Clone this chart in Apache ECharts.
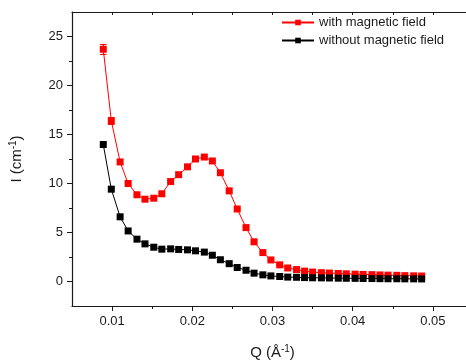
<!DOCTYPE html>
<html><head><meta charset="utf-8">
<script src="https://cdn.jsdelivr.net/npm/echarts@6/dist/echarts.min.js"></script>
<style>html,body{margin:0;padding:0;background:#fff}#c{width:466px;height:360px}</style>
</head><body><div id="c"></div>
<script>
const q = [0.0089, 0.0099, 0.0110, 0.0120, 0.0131, 0.0141, 0.0152, 0.0162, 0.0173, 0.0183,
           0.0194, 0.0204, 0.0215, 0.0225, 0.0235, 0.0246, 0.0256, 0.0267, 0.0277, 0.0288,
           0.0298, 0.0309, 0.0319, 0.0330, 0.0340, 0.0350, 0.0361, 0.0371, 0.0382, 0.0392,
           0.0403, 0.0413, 0.0424, 0.0434, 0.0444, 0.0455, 0.0465, 0.0476, 0.0486];
const withField = [23.7, 16.4, 12.2, 10.0, 8.85, 8.4, 8.5, 8.95, 10.2, 10.9,
                   11.7, 12.5, 12.7, 12.3, 11.1, 9.25, 7.4, 5.5, 4.05, 2.95,
                   2.2, 1.7, 1.38, 1.22, 1.06, 0.96, 0.9, 0.86, 0.82, 0.78,
                   0.75, 0.72, 0.7, 0.67, 0.65, 0.63, 0.6, 0.58, 0.56];
const withFieldErr = [0.55, 0.35, 0.25, 0.15, 0.1, 0.1, 0.1, 0.1, 0.1, 0.1,
                      0.1, 0.1, 0.1, 0.1, 0.1, 0.1, 0.1, 0.1, 0.1, 0.1,
                      0.05, 0.05, 0.05, 0.05, 0.05, 0.05, 0.05, 0.05, 0.05, 0.05,
                      0.05, 0.05, 0.05, 0.05, 0.05, 0.05, 0.05, 0.05, 0.05];
const withoutField = [13.98, 9.42, 6.6, 5.16, 4.32, 3.84, 3.5, 3.3, 3.33, 3.27,
                      3.23, 3.13, 3.0, 2.68, 2.22, 1.82, 1.43, 1.15, 0.85, 0.68,
                      0.57, 0.51, 0.45, 0.43, 0.4, 0.38, 0.37, 0.36, 0.34, 0.33,
                      0.32, 0.31, 0.3, 0.29, 0.28, 0.28, 0.27, 0.27, 0.26];
const seriesNames = ['with magnetic field', 'without magnetic field'];
const xMajor = [0.01, 0.02, 0.03, 0.04, 0.05];
const xMinor = [0.015, 0.025, 0.035, 0.045];
const yMajor = [0, 5, 10, 15, 20, 25];
const yMinor = [2.5, 7.5, 12.5, 17.5, 22.5];

const FONT = '"Liberation Sans", Arial, sans-serif';
const AX = '#1a1a1a';
const CAP = 0.0004; // half width of error-bar caps, in Q units
const chart = echarts.init(document.getElementById('c'), null, {renderer: 'canvas'});
const grid = {left: 72, top: 12, width: 401, height: 294, outerBoundsMode: 'none'};
const xBase = () => ({type: 'value', min: 0.005, max: 0.055, splitLine: {show: false}});
const yBase = () => ({type: 'value', min: -2.5, max: 27.5, splitLine: {show: false}});
const lineOn = () => ({show: true, onZero: false, lineStyle: {color: AX, width: 1.2}});
const lineOff = () => ({show: false, onZero: false});
const supRich = (size) => ({sup: {fontSize: size, fontFamily: FONT, color: AX, padding: [0, 0, 8, 0]}});

const errStems = q.map((v, i) => ({coords: [[v, withField[i] - withFieldErr[i]], [v, withField[i] + withFieldErr[i]]]}));
const errCaps = [];
q.forEach((v, i) => {
  errCaps.push({coords: [[v - CAP, withField[i] + withFieldErr[i]], [v + CAP, withField[i] + withFieldErr[i]]]});
  errCaps.push({coords: [[v - CAP, withField[i] - withFieldErr[i]], [v + CAP, withField[i] - withFieldErr[i]]]});
});

chart.setOption({
  animation: false,
  backgroundColor: '#fff',
  grid: grid,
  legend: {
    left: 281, top: 16, padding: 0, orient: 'vertical', itemWidth: 32, itemHeight: 7, itemGap: 5,
    textStyle: {fontFamily: FONT, fontSize: 13, color: AX},
    data: seriesNames
  },
  xAxis: [
    Object.assign(xBase(), {
      position: 'bottom',
      axisLine: lineOn(),
      axisTick: {show: true, inside: false, length: 5, customValues: xMajor, lineStyle: {color: AX}},
      axisLabel: {customValues: xMajor, margin: 9, fontFamily: FONT, fontSize: 13, color: AX,
                  formatter: v => String(+v.toFixed(3))},
      name: 'Q (Å{sup|-1})', nameLocation: 'middle', nameGap: 38,
      nameTextStyle: {fontFamily: FONT, fontSize: 15, color: AX, rich: supRich(10)}
    }),
    Object.assign(xBase(), {
      position: 'bottom',
      axisLine: lineOff(),
      axisTick: {show: true, inside: false, length: 3, customValues: xMinor, lineStyle: {color: AX}},
      axisLabel: {show: false}
    }),
    Object.assign(xBase(), {
      position: 'top',
      axisLine: lineOn(),
      axisTick: {show: true, inside: true, length: 3, customValues: xMajor.concat(xMinor), lineStyle: {color: AX}},
      axisLabel: {show: false}
    })
  ],
  yAxis: [
    Object.assign(yBase(), {
      position: 'left',
      axisLine: lineOn(),
      axisTick: {show: true, inside: false, length: 5, customValues: yMajor, lineStyle: {color: AX}},
      axisLabel: {customValues: yMajor, margin: 9, fontFamily: FONT, fontSize: 13, color: AX},
      name: 'I (cm{sup|-1})', nameLocation: 'middle', nameGap: 46,
      nameTextStyle: {fontFamily: FONT, fontSize: 15, color: AX, rich: supRich(10)}
    }),
    Object.assign(yBase(), {
      position: 'left',
      axisLine: lineOff(),
      axisTick: {show: true, inside: false, length: 3, customValues: yMinor, lineStyle: {color: AX}},
      axisLabel: {show: false}
    }),
    Object.assign(yBase(), {
      position: 'right',
      axisLine: lineOn(),
      axisTick: {show: false},
      axisLabel: {show: false}
    })
  ],
  series: [
    {
      type: 'lines', name: 'errStems', coordinateSystem: 'cartesian2d', xAxisIndex: 0, yAxisIndex: 0, z: 1,
      data: errStems, lineStyle: {color: '#ff0000', width: 1, opacity: 1}, silent: true
    },
    {
      type: 'lines', name: 'errCaps', coordinateSystem: 'cartesian2d', xAxisIndex: 0, yAxisIndex: 0, z: 1,
      data: errCaps, lineStyle: {color: '#ff0000', width: 1, opacity: 1}, silent: true
    },
    {
      type: 'line', name: seriesNames[0], xAxisIndex: 0, yAxisIndex: 0, z: 2,
      data: q.map((v, i) => [v, withField[i]]),
      symbol: 'rect', symbolSize: 7, showAllSymbol: true,
      itemStyle: {color: '#ff0000'}, lineStyle: {color: '#ff0000', width: 1}
    },
    {
      type: 'line', name: seriesNames[1], xAxisIndex: 0, yAxisIndex: 0, z: 3,
      data: q.map((v, i) => [v, withoutField[i]]),
      symbol: 'rect', symbolSize: 7, showAllSymbol: true,
      itemStyle: {color: '#000000'}, lineStyle: {color: '#000000', width: 1}
    }
  ]
});
</script>
</body></html>
